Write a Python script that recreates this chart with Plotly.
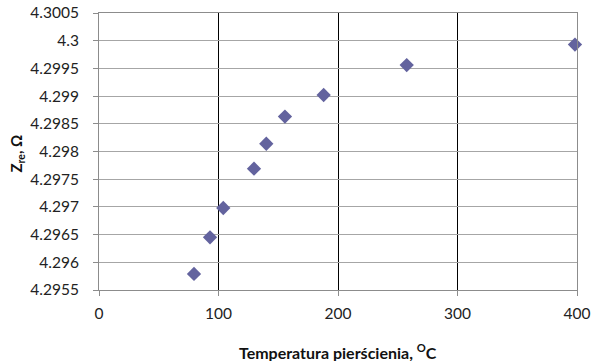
import plotly.graph_objects as go

temperature = [79.5, 92.9, 104, 129.7, 140, 155.6, 188, 257.5, 398.3]
z_re = [4.29579, 4.29645, 4.29698, 4.29769, 4.29814, 4.29863, 4.29902, 4.29956, 4.29993]

y_tick_vals = [4.2955, 4.296, 4.2965, 4.297, 4.2975, 4.298, 4.2985, 4.299, 4.2995, 4.3, 4.3005]
y_tick_text = ["4.2955", "4.296", "4.2965", "4.297", "4.2975", "4.298", "4.2985", "4.299", "4.2995", "4.3", "4.3005"]
x_tick_vals = [0, 100, 200, 300, 400]
x_tick_text = ["0", "100", "200", "300", "400"]

x_title = "<b>Temperatura pierścienia, <sup>O</sup>C</b>"
y_title = "<b>Z<sub>re</sub>, Ω</b>"

FONT = "Lato"

fig = go.Figure()
fig.add_trace(go.Scatter(
    x=temperature, y=z_re, mode="markers",
    marker=dict(symbol="diamond", size=11, color="#63639E", line=dict(width=0)),
    showlegend=False, cliponaxis=False,
))

fig.update_layout(
    width=592, height=361,
    margin=dict(l=99, r=15, t=13, b=71),
    paper_bgcolor="white", plot_bgcolor="white",
    font=dict(family=FONT, size=16, color="#222222"),
)
fig.update_xaxes(
    range=[0, 400], tickvals=x_tick_vals, ticktext=x_tick_text,
    showgrid=True, gridcolor="black", gridwidth=1,
    showline=True, linecolor="#8c8c8c", linewidth=1, mirror=True,
    ticks="outside", ticklen=5, tickcolor="#8c8c8c",
    zeroline=False, automargin=False, ticklabelstandoff=4,
    ticklabeloverflow="allow",
    tickfont=dict(family=FONT, size=15.5),
)
fig.update_yaxes(
    range=[4.2955, 4.3005], tickvals=y_tick_vals, ticktext=y_tick_text,
    showgrid=True, gridcolor="#a6a6a6", gridwidth=1,
    showline=True, linecolor="#8c8c8c", linewidth=1, mirror=True,
    ticks="outside", ticklen=5, tickcolor="#8c8c8c",
    zeroline=False, automargin=False, ticklabelstandoff=11,
    ticklabeloverflow="allow",
    tickfont=dict(family=FONT, size=15.5),
)
fig.add_annotation(
    text=x_title, xref="paper", yref="paper", x=0.5, y=0,
    xanchor="center", yanchor="middle", yshift=-61, showarrow=False,
    font=dict(family=FONT, size=16, color="#111111"),
)
fig.add_annotation(
    text=y_title, xref="paper", yref="paper", x=0, y=0.5,
    xanchor="center", yanchor="middle", xshift=-83, yshift=-2,
    textangle=-90, showarrow=False,
    font=dict(family=FONT, size=15, color="#111111"),
)

# remove the default 8px page margin so the figure fills the window exactly
fig.write_html("out.html", config={"displayModeBar": False},
               post_script="document.body.style.margin='0';")
